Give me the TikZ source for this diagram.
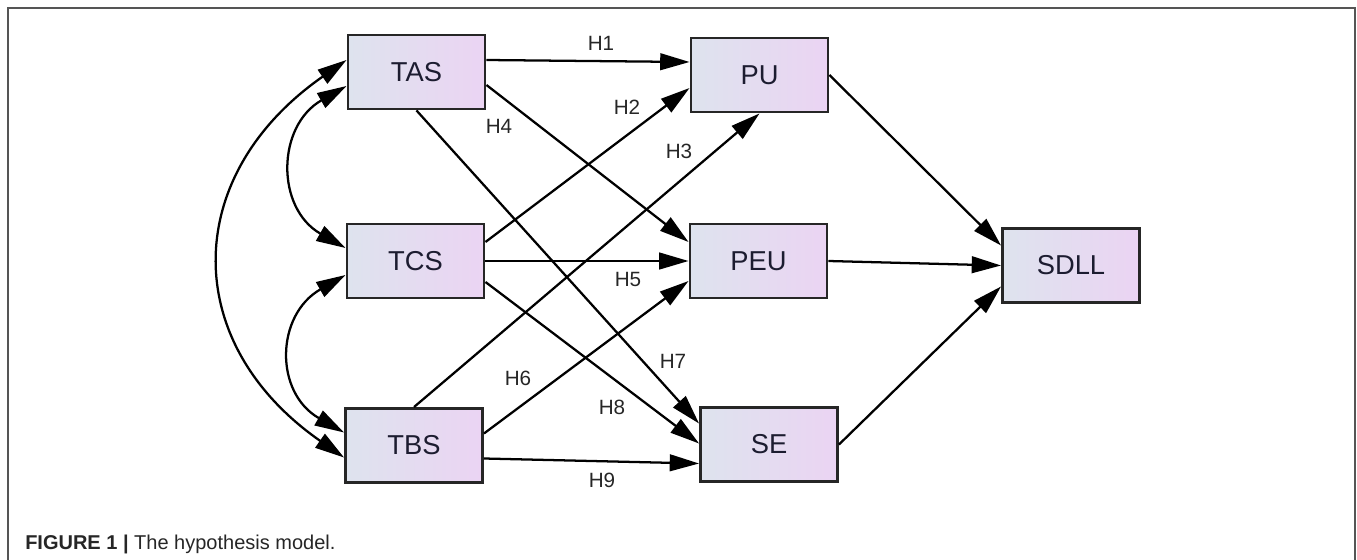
\documentclass[tikz,border=0pt]{standalone}
\usepackage{fontspec}
\setmainfont{Liberation Sans}
\usetikzlibrary{arrows.meta,calc}
\definecolor{boxL}{HTML}{DEE3EE}
\definecolor{boxR}{HTML}{EBD4F3}
\definecolor{boxtext}{HTML}{1C1C30}
\definecolor{frame}{HTML}{555555}
\tikzset{
  var/.style={draw=black!85, line width=2.2pt, left color=boxL, right color=boxR,
    minimum width=102.75pt, minimum height=55.5pt, inner sep=0pt,
    text=boxtext, font=\fontsize{20.5}{24}\selectfont},
  hyp/.style={text=black!85, font=\fontsize{15.5}{17}\selectfont, inner sep=0pt},
  path/.style={line width=1.7pt, -{Triangle[length=22pt,width=12.5pt]}},
  cov/.style={line width=1.7pt, {Triangle[length=22pt,width=12.5pt]}-{Triangle[length=22pt,width=12.5pt]}},
}
\begin{document}
\begin{tikzpicture}[x=0.75pt,y=-0.75pt]
\useasboundingbox (0,0) rectangle (1357,560);
\draw[frame, line width=0.9pt] (8,560) -- (8,8) -- (1355,8) -- (1355,560);

\node[var] (TAS)  at (416.5,72)   {TAS};
\node[var] (TCS)  at (415.5,261)  {TCS};
\node[var] (TBS)  at (414,445.5)  {TBS};
\node[var] (PU)   at (759.5,75)   {PU};
\node[var] (PEU)  at (758.5,261)  {PEU};
\node[var] (SE)   at (769,444.5)  {SE};
\node[var] (SDLL) at (1071,265.5) {SDLL};

% hypothesised paths
\draw[path] ($(TAS.east)+(0,-12)$) -- ($(PU.west)+(0,-13)$);
\draw[path] ($(TAS.east)+(0,13)$)  -- ($(PEU.west)+(0,-19)$);
\draw[path] (TAS.south) -- ($(SE.west)+(0,-21)$);
\draw[path] ($(TCS.east)+(0,-19)$) -- ($(PU.west)+(0,13)$);
\draw[path] (TCS.east) -- (PEU.west);
\draw[path] ($(TCS.east)+(0,21)$)  -- ($(SE.west)+(0,-1)$);
\draw[path] (TBS.north) -- (PU.south);
\draw[path] ($(TBS.east)+(0,-12)$) -- ($(PEU.west)+(0,20)$);
\draw[path] ($(TBS.east)+(0,13)$)  -- ($(SE.west)+(0,19)$);

\draw[path] (PU.east)  -- ($(SDLL.west)+(0,-20)$);
\draw[path] (PEU.east) -- (SDLL.west);
\draw[path] (SE.east)  -- ($(SDLL.west)+(0,21)$);

% covariances
\draw[cov] ($(TAS.west)+(0,14)$) .. controls +(-70,40) and +(-70,-40) .. ($(TCS.west)+(0,-13)$);
\draw[cov] ($(TCS.west)+(0,14)$) .. controls +(-70,40) and +(-70,-40) .. ($(TBS.west)+(0,-13)$);
\draw[cov] ($(TAS.west)+(0,-12)$) .. controls +(-165,115) and +(-165,-115) .. ($(TBS.west)+(0,12)$);

% labels
\node[hyp] (h1) at (601,43)  {H1};
\node[hyp] (h2) at (627,107) {H2};
\node[hyp] (h3) at (679,151) {H3};
\node[hyp] (h4) at (499,126) {H4};
\node[hyp] (h5) at (628,279) {H5};
\node[hyp] (h6) at (518,378) {H6};
\node[hyp] (h7) at (673,361) {H7};
\node[hyp] (h8) at (612,407) {H8};
\node[hyp] (h9) at (602,480) {H9};

\node[anchor=base west, inner sep=0pt, text=black!85, font=\fontsize{15}{17}\selectfont] (cap) at (25,549)
  {\textbf{FIGURE 1 |} The hypothesis model.};
\end{tikzpicture}
\end{document}
